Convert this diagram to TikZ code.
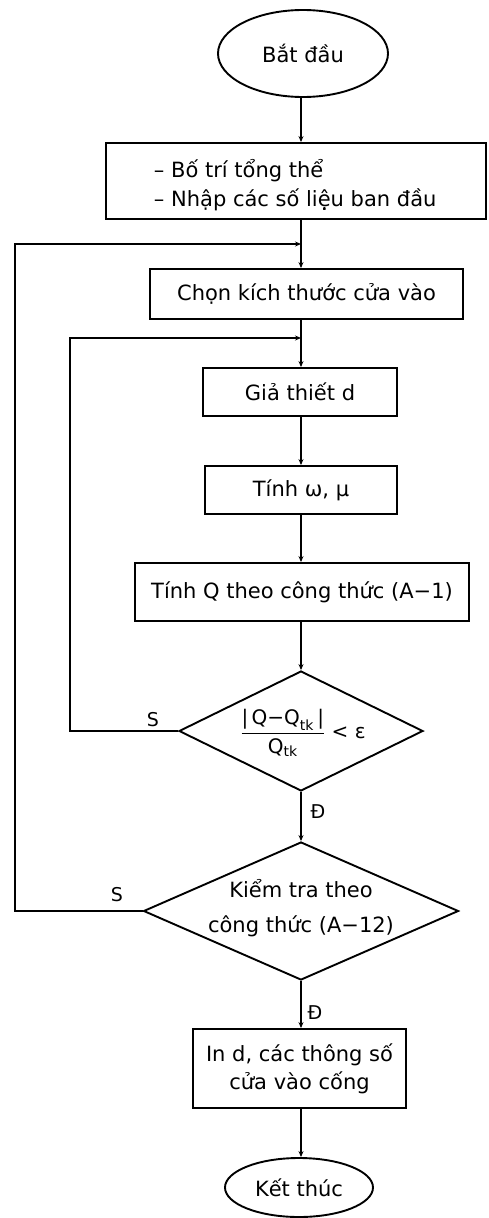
\documentclass[tikz,border=0pt]{standalone}
\usepackage{fontspec}
\setmainfont{DejaVu Sans}
\usepackage{amsmath}
\usetikzlibrary{shapes.geometric,arrows.meta}
\begin{document}
\begin{tikzpicture}[x=1pt,y=-1pt, line width=1.9pt,
  font=\fontsize{21}{25}\selectfont,
  box/.style={draw, rectangle, inner sep=0pt, align=center},
  term/.style={draw, ellipse, inner sep=0pt},
  dia/.style={draw, diamond, inner sep=0pt},
  arr/.style={-{Stealth[length=6pt,width=5pt]}},
  lbl/.style={inner sep=0pt, font=\fontsize{19}{21}\selectfont}]
\useasboundingbox (0,0) rectangle (488,1218);
\coordinate (ax) at (301,0);
\coordinate (ol) at (15,0);
\coordinate (il) at (70,0);
\coordinate (j1) at (301,244);
\coordinate (j2) at (301,338);
% nodes
\node[term, minimum width=170pt, minimum height=87pt] (start) at (303,53.5) {Bắt đầu};
\node[box, minimum width=380pt, minimum height=76pt] (b1) at (296,181) {};
\node[inner sep=0pt, anchor=west, align=left, font=\fontsize{21}{29}\selectfont] (t1) at (153,185) {– Bố trí tổng thể\\– Nhập các số liệu ban đầu};
\node[box, minimum width=313pt, minimum height=50pt] (b2) at (306.5,294) {Chọn kích thước cửa vào};
\node[box, minimum width=194pt, minimum height=48pt] (b3) at (300,392) {Giả thiết d};
\node[box, minimum width=192pt, minimum height=48pt] (b4) at (301,490) {Tính ω, μ};
\node[box, minimum width=334pt, minimum height=58pt] (b5) at (302,592) {Tính Q theo công thức (A−1)};
\node[dia, minimum width=244pt, minimum height=120pt] (d1) at (301,731) {};
\node[inner sep=0pt, font=\fontsize{20}{22}\selectfont] (q1) at (303,733) {$\dfrac{\text{|\,Q−Q}_{\text{tk}}\text{\,|}}{\text{Q}_{\text{tk}}}\text{ < ε}$};
\node[dia, minimum width=315pt, minimum height=138pt] (d2) at (301,911) {};
\node[inner sep=0pt, align=center, font=\fontsize{21}{35}\selectfont] (q2) at (301,908) {Kiểm tra theo\\công thức (A−12)};
\node[box, minimum width=213pt, minimum height=79pt, font=\fontsize{21}{28}\selectfont] (b6) at (299.5,1068.5) {In d, các thông số\\cửa vào cống};
\node[term, minimum width=148pt, minimum height=59pt] (stop) at (299,1187.5) {Kết thúc};
% labels
\node[lbl] (s1) at (153,720) {S};
\node[lbl] (s2) at (117,895) {S};
\node[lbl] (y1) at (318,812) {Đ};
\node[lbl] (y2) at (315,1013) {Đ};
% connectors
\draw[arr] (start.south -| ax) -- (b1.north -| ax);
\draw (b1.south -| ax) -- (j1);
\draw[arr] (j1) -- (b2.north -| ax);
\draw (b2.south -| ax) -- (j2);
\draw[arr] (j2) -- (b3.north -| ax);
\draw[arr] (b3.south -| ax) -- (b4.north -| ax);
\draw[arr] (b4.south -| ax) -- (b5.north -| ax);
\draw[arr] (b5.south -| ax) -- (d1.north);
\draw[arr] (d1.south) -- (d2.north);
\draw[arr] (d2.south) -- (b6.north -| ax);
\draw[arr] (b6.south -| ax) -- (stop.north -| ax);
\draw[arr] (d1.west) -| (il |- j2) -- (j2);
\draw[arr] (d2.west) -| (ol |- j1) -- (j1);
\end{tikzpicture}
\end{document}
